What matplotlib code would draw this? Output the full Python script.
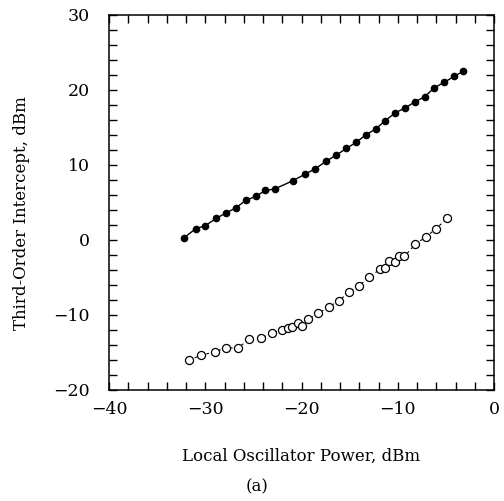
import matplotlib
matplotlib.use("Agg")
import matplotlib.pyplot as plt
from matplotlib.ticker import MultipleLocator

# filled dots (upper curve)
lo_filled = [-32.2, -31.0, -30.0, -28.85, -27.84, -26.8, -25.77, -24.76, -23.76, -22.8,
             -20.9, -19.67, -18.56, -17.45, -16.4, -15.35, -14.34, -13.33, -12.3, -11.3,
             -10.32, -9.25, -8.24, -7.2, -6.2, -5.2, -4.16, -3.2]
ip3_filled = [0.3, 1.5, 1.9, 2.9, 3.6, 4.3, 5.3, 5.8, 6.6, 6.8,
              7.9, 8.75, 9.5, 10.5, 11.3, 12.2, 13.0, 14.0, 14.8, 15.9,
              16.9, 17.6, 18.4, 19.1, 20.3, 21.0, 21.8, 22.5]

# open circles (lower curve)
lo_open = [-31.69, -30.47, -29.02, -27.84, -26.6, -25.42, -24.24, -23.1, -22.06, -21.4,
           -20.99, -20.36, -19.98, -19.36, -18.25, -17.17, -16.1, -15.06, -14.03, -12.96,
           -11.88, -11.3, -10.88, -10.25, -9.84, -9.32, -8.2, -7.1, -6.03, -4.85]
ip3_open = [-16.0, -15.4, -14.9, -14.4, -14.4, -13.2, -13.1, -12.4, -12.0, -11.7,
            -11.55, -11.07, -11.5, -10.6, -9.8, -8.9, -8.1, -6.9, -6.1, -5.0,
            -3.9, -3.8, -2.8, -3.0, -2.1, -2.2, -0.6, 0.4, 1.5, 2.9]

plt.rcParams['font.family'] = ['DejaVu Serif']

fig = plt.figure(figsize=(5.04, 5.01), dpi=100)
ax = fig.add_axes([0.2163, 0.2216, 0.7639, 0.7485])

ax.plot(lo_filled, ip3_filled, '-o', color='black', lw=1.0, ms=4.5)
ax.plot(lo_open, ip3_open, '--o', color='black', lw=0.8, ms=5.8,
        mfc='white', mew=0.9, dashes=(2.5, 3))

ax.set_xlim(-40, 0)
ax.set_ylim(-20, 30)
ax.xaxis.set_major_locator(MultipleLocator(10))
ax.xaxis.set_minor_locator(MultipleLocator(2))
ax.yaxis.set_major_locator(MultipleLocator(10))
ax.yaxis.set_minor_locator(MultipleLocator(2))
ax.tick_params(which='both', direction='in', top=True, right=True,
               length=6, width=1.0, labelsize=12.5)
ax.tick_params(axis='x', pad=8)
ax.tick_params(axis='y', pad=14)
for s in ax.spines.values():
    s.set_linewidth(1.1)

ax.set_xlabel('Local Oscillator Power, dBm', fontsize=12)
ax.set_ylabel('Third-Order Intercept, dBm', fontsize=12)
ax.xaxis.set_label_coords(0.5, -0.155)
ax.yaxis.set_label_coords(-0.205, 0.472)

fig.text(257 / 504, 1 - 487 / 501, '(a)', fontsize=12, ha='center', va='center')

fig.savefig('out.png', dpi=100)
